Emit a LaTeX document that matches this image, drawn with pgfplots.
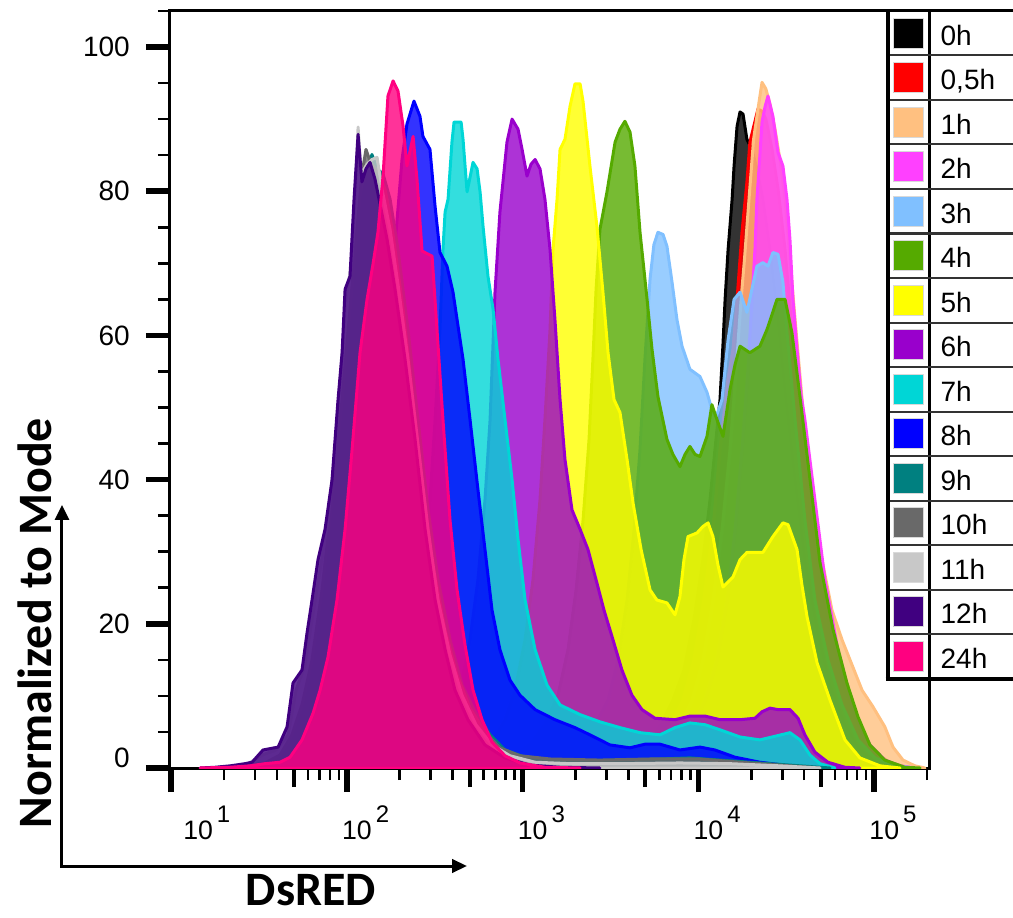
\documentclass[border=0pt]{standalone}
\usepackage{fontspec}
\setmainfont{Liberation Sans}
\newfontfamily\lblfont{Carlito}
\usepackage{pgfplots}
\pgfplotsset{compat=1.18}
\usetikzlibrary{arrows.meta}
\definecolor{c0}{HTML}{000000}
\definecolor{c05}{HTML}{FF0000}
\definecolor{c1}{HTML}{FFC080}
\definecolor{c2}{HTML}{FF40FF}
\definecolor{c3}{HTML}{80C0FF}
\definecolor{c4}{HTML}{55AA00}
\definecolor{c5}{HTML}{FFFF00}
\definecolor{c6}{HTML}{9900CC}
\definecolor{c7}{HTML}{00D6D6}
\definecolor{c8}{HTML}{0000FF}
\definecolor{c9}{HTML}{008080}
\definecolor{c10}{HTML}{696969}
\definecolor{c11}{HTML}{C8C8C8}
\definecolor{c12}{HTML}{400080}
\definecolor{c24}{HTML}{FF0080}
\newcommand\xl[1]{10\hspace{3pt}\raisebox{12.75pt}{\fontsize{18pt}{18pt}\selectfont #1}}
\pgfplotsset{hist/.style={fill=#1, draw=#1, fill opacity=0.8, line width=2.25pt, line join=round}}
\begin{document}
\begin{tikzpicture}
\begin{axis}[
  name=ax,
  scale only axis,
  width=569.25pt, height=567.75pt,
  xmin=0.994, xmax=5.312, ymin=0, ymax=105,
  axis line style={line width=2.25pt},
  tick pos=left,
  tick align=outside,
  xtick={1,2,3,4,5},
  xticklabels={{\hspace{12.75pt}\xl{1}},{\xl{2}},{\xl{3}},{\xl{4}},{\xl{5}}},
  minor xtick={1.30103,1.47712,1.60206,1.77815,1.84510,1.90309,1.95424,
               2.30103,2.47712,2.60206,2.77815,2.84510,2.90309,2.95424,
               3.30103,3.47712,3.60206,3.77815,3.84510,3.90309,3.95424,
               4.30103,4.47712,4.60206,4.77815,4.84510,4.90309,4.95424,
               5.30103},
  extra x ticks={1.69897,2.69897,3.69897,4.69897},
  extra x tick labels={},
  extra x tick style={major tick length=14.25pt, major tick style={line width=3pt}},
  ytick={20,40,60,80,100},
  minor ytick={5,10,15,25,30,35,45,50,55,65,70,75,85,90,95,105},
  extra y ticks={0},
  extra y tick style={yticklabel style={yshift=7.5pt}},
  major tick length=18pt,
  minor tick length=9pt,
  major tick style={line width=4.1pt, black},
  minor tick style={line width=1.9pt, black},
  /pgf/number format/assume math mode=true,
  yticklabel style={font=\fontsize{21pt}{21pt}\selectfont, anchor=east, inner sep=0pt, xshift=-12pt},
  xticklabel style={font=\fontsize{20pt}{20pt}\selectfont, anchor=base west, inner sep=0pt, xshift=-3.75pt, yshift=-35.25pt},
  xlabel={DsRED},
  ylabel={Normalized to Mode},
  xlabel style={font=\lblfont\bfseries\fontsize{36pt}{36pt}\selectfont, at={(axis description cs:0.1858,-0.181)}, anchor=base, inner sep=0pt},
  ylabel style={font=\lblfont\bfseries\fontsize{36pt}{36pt}\selectfont, at={(axis description cs:-0.1555,0.1915)}, anchor=base, inner sep=0pt},
  legend entries={0h,{0,5h},1h,2h,3h,4h,5h,6h,7h,8h,9h,10h,11h,12h,24h},
  legend style={at={(1,1)}, anchor=north west, xshift=-32.25pt,
    draw=none, fill=none, inner sep=0pt, inner xsep=0pt, inner ysep=0pt, outer sep=0pt,
    row sep=0pt, column sep=8pt,
    font=\fontsize{21pt}{21pt}\selectfont,
    nodes={inner sep=0pt, text height=19pt, text depth=1pt},
    cells={anchor=west}},
  legend image code/.code={
    \path[draw=none, fill=none] (0pt,-16.6875pt) rectangle (33pt,16.6875pt);
    \path[fill=white, fill opacity=1, draw=none] (3pt,-14pt) rectangle (30pt,14pt);
    \draw[#1, draw=black!15, line width=0.75pt, fill opacity=1, draw opacity=1] (5.25pt,-11.25pt) rectangle (27.75pt,11.25pt);
    \draw[overlay, draw=black!80, fill=none, line width=1.5pt, draw opacity=1] (0pt,-16.6875pt) -- (200pt,-16.6875pt);
  },
]
% 0h
\addplot[hist=c0] coordinates {(3.099,0) (3.327,0.1) (3.497,0.6) (3.611,1.4) (3.708,3.2) (3.787,6.0) (3.855,9.4) (3.918,13.6) (3.975,20.6) (4.026,28.9) (4.066,37.2) (4.100,45.6) (4.123,51.1) (4.140,58.8) (4.152,65.0) (4.169,71.9) (4.192,78.9) (4.203,83.5) (4.220,89.0) (4.237,91.0) (4.254,90.7) (4.276,87.2) (4.305,85.8) (4.333,83.1) (4.367,78.9) (4.407,71.9) (4.453,62.2) (4.498,51.1) (4.550,40.0) (4.606,28.9) (4.675,19.2) (4.749,11.5) (4.834,6.0) (4.919,2.5) (5.022,0.7) (5.147,0)} \closedcycle;
% 0,5h
\addplot[hist=c05] coordinates {(3.156,0) (3.383,0.1) (3.554,0.6) (3.668,1.4) (3.764,3.2) (3.844,6.0) (3.912,9.4) (3.975,15.0) (4.032,23.3) (4.083,33.1) (4.123,44.2) (4.168,53.9) (4.197,58.1) (4.220,65.0) (4.248,74.3) (4.276,81.25) (4.293,86.8) (4.322,89.7) (4.339,91.4) (4.362,91.1) (4.384,90.0) (4.419,85.8) (4.453,80.3) (4.493,71.9) (4.532,60.8) (4.578,48.3) (4.635,35.8) (4.692,26.1) (4.760,17.8) (4.834,10.8) (4.919,5.3) (5.005,2.2) (5.090,0.7) (5.204,0)} \closedcycle;
% 1h
\addplot[hist=c1] coordinates {(3.213,0) (3.440,0.1) (3.611,0.6) (3.725,1.4) (3.816,3.2) (3.895,6.0) (3.964,9.4) (4.026,15.0) (4.083,23.3) (4.135,33.1) (4.180,44.2) (4.215,55.3) (4.243,65.0) (4.262,70.5) (4.288,78.9) (4.314,87.2) (4.339,91.4) (4.362,95.1) (4.384,94.2) (4.407,92.1) (4.436,88.6) (4.464,84.4) (4.493,78.9) (4.521,70.6) (4.555,60.8) (4.595,49.7) (4.646,38.6) (4.703,28.9) (4.760,21.9) (4.817,17.8) (4.874,14.3) (4.931,10.8) (4.993,8.5) (5.061,5.7) (5.107,2.9) (5.164,1.1) (5.232,0.3) (5.289,0)} \closedcycle;
% 2h
\addplot[hist=c2] coordinates {(3.270,0) (3.497,0.1) (3.696,0.8) (3.839,2.5) (3.952,5.3) (4.038,9.4) (4.106,15.0) (4.163,23.3) (4.209,33.1) (4.248,44.2) (4.282,55.3) (4.305,65.0) (4.322,72.0) (4.333,78.9) (4.350,85.0) (4.362,89.6) (4.379,91.7) (4.396,93.2) (4.424,90.4) (4.453,85.4) (4.481,83.5) (4.504,78.9) (4.521,73.3) (4.538,65.0) (4.561,58.1) (4.584,51.8) (4.606,48.3) (4.663,37.2) (4.720,26.1) (4.794,16.4) (4.862,10.1) (4.919,6.0) (4.976,3.2) (5.061,1.1) (5.147,0.3) (5.232,0)} \closedcycle;
% 3h
\addplot[hist=c3] coordinates {(2.701,0) (2.928,0.1) (3.099,0.6) (3.213,1.4) (3.327,3.2) (3.412,6.0) (3.486,9.4) (3.543,15.0) (3.594,23.3) (3.634,33.1) (3.668,44.2) (3.696,56.7) (3.725,67.8) (3.747,72.6) (3.770,74.3) (3.799,74.0) (3.821,72.4) (3.850,67.4) (3.878,62.2) (3.907,58.5) (3.952,55.3) (4.009,54.3) (4.049,52.1) (4.077,49.7) (4.100,48.6) (4.134,51.1) (4.169,59.4) (4.203,65.0) (4.237,66.0) (4.276,63.2) (4.333,69.6) (4.367,70.1) (4.396,69.6) (4.424,71.5) (4.453,71.25) (4.481,67.4) (4.504,60.4) (4.550,48.3) (4.606,34.4) (4.663,23.3) (4.737,15.0) (4.817,8.75) (4.908,3.9) (5.005,1.4) (5.118,0.3) (5.232,0)} \closedcycle;
% 4h
\addplot[hist=c4] coordinates {(2.416,0) (2.644,0.1) (2.815,0.6) (2.928,1.4) (3.042,3.2) (3.127,6.0) (3.201,10.1) (3.258,16.4) (3.304,24.7) (3.344,34.4) (3.378,45.6) (3.400,56.7) (3.418,66.4) (3.440,74.7) (3.480,79.9) (3.526,86.8) (3.554,88.6) (3.582,89.7) (3.611,88.2) (3.639,83.5) (3.668,74.3) (3.708,65.0) (3.736,58.1) (3.770,51.5) (3.821,45.6) (3.855,43.5) (3.895,41.8) (3.924,43.5) (3.952,44.6) (3.981,43.5) (4.009,43.2) (4.049,46.0) (4.077,50.4) (4.106,48.3) (4.140,46.0) (4.180,52.5) (4.209,56.0) (4.237,58.5) (4.293,57.6) (4.350,58.5) (4.390,60.8) (4.419,62.9) (4.447,65.0) (4.493,65.0) (4.532,60.4) (4.578,51.5) (4.635,40.0) (4.692,28.5) (4.766,19.2) (4.845,11.8) (4.908,7.1) (4.976,3.2) (5.061,1.1) (5.175,0.1) (5.261,0)} \closedcycle;
% 5h
\addplot[hist=c5] coordinates {(2.189,0) (2.416,0.1) (2.587,0.6) (2.701,1.4) (2.815,3.2) (2.900,6.7) (2.957,10.8) (3.014,17.8) (3.059,26.1) (3.099,37.2) (3.127,48.3) (3.156,60.8) (3.173,71.9) (3.196,78.9) (3.213,85.8) (3.241,87.2) (3.270,91.8) (3.298,94.9) (3.327,94.9) (3.344,92.4) (3.383,83.5) (3.423,75.1) (3.457,66.0) (3.486,57.6) (3.520,51.1) (3.554,49.3) (3.594,42.8) (3.628,36.8) (3.674,30.3) (3.725,24.7) (3.764,23.3) (3.821,22.9) (3.867,21.25) (3.895,23.75) (3.918,28.9) (3.941,32.1) (3.992,32.6) (4.026,33.5) (4.055,34.0) (4.083,32.1) (4.111,28.2) (4.140,25.1) (4.197,26.5) (4.237,28.9) (4.276,29.9) (4.367,29.9) (4.424,32.1) (4.481,34.0) (4.510,33.75) (4.561,30.3) (4.589,25.4) (4.618,21.0) (4.675,14.6) (4.749,9.4) (4.834,3.9) (4.919,1.4) (5.033,0.3) (5.147,0)} \closedcycle;
% 6h
\addplot[hist=c6] coordinates {(1.904,0) (2.132,0.1) (2.303,0.6) (2.416,1.4) (2.502,3.2) (2.576,6.0) (2.644,10.8) (2.701,17.8) (2.746,26.1) (2.786,37.2) (2.815,48.3) (2.843,66.0) (2.871,77.1) (2.911,86.8) (2.940,90.0) (2.974,88.6) (2.997,85.8) (3.025,82.1) (3.048,83.75) (3.071,84.4) (3.099,83.1) (3.127,78.9) (3.156,71.9) (3.184,62.2) (3.213,51.1) (3.241,42.8) (3.281,35.8) (3.327,33.1) (3.372,30.3) (3.418,26.1) (3.463,21.9) (3.514,17.8) (3.565,13.6) (3.622,10.1) (3.679,8.1) (3.753,6.9) (3.867,6.7) (3.952,7.2) (4.038,7.2) (4.123,6.7) (4.237,6.7) (4.322,6.9) (4.362,7.8) (4.407,8.3) (4.453,8.1) (4.521,8.1) (4.567,6.9) (4.606,4.6) (4.663,2.2) (4.737,0.8) (4.834,0.1) (4.919,0)} \closedcycle;
% 7h
\addplot[hist=c7] coordinates {(1.620,0) (1.848,0.1) (1.990,0.6) (2.104,1.4) (2.189,3.2) (2.274,6.7) (2.331,10.8) (2.388,17.8) (2.433,26.1) (2.473,37.2) (2.502,48.3) (2.530,60.8) (2.547,71.9) (2.559,77.1) (2.576,78.9) (2.598,86.8) (2.610,89.6) (2.650,89.6) (2.661,87.2) (2.684,79.9) (2.718,84.0) (2.741,83.1) (2.758,79.9) (2.775,75.1) (2.803,68.2) (2.832,63.6) (2.860,56.7) (2.900,48.3) (2.940,40.0) (2.974,31.7) (3.014,23.3) (3.071,16.4) (3.139,11.5) (3.213,8.75) (3.327,7.4) (3.440,6.4) (3.554,5.6) (3.668,4.9) (3.782,4.6) (3.867,5.6) (3.952,6.25) (4.038,6.0) (4.123,5.3) (4.237,4.3) (4.350,3.9) (4.436,4.4) (4.521,4.9) (4.578,3.9) (4.635,1.8) (4.692,0.6) (4.777,0)} \closedcycle;
% 8h
\addplot[hist=c8] coordinates {(1.392,0) (1.563,0.1) (1.677,0.4) (1.762,1.1) (1.836,2.5) (1.904,5.3) (1.961,9.4) (2.018,15.0) (2.075,23.3) (2.132,34.4) (2.189,48.3) (2.246,63.6) (2.286,76.1) (2.314,84.4) (2.342,89.3) (2.382,92.5) (2.416,90.4) (2.433,87.6) (2.473,85.8) (2.502,77.9) (2.530,71.5) (2.570,69.6) (2.604,66.0) (2.633,61.25) (2.661,56.7) (2.701,48.3) (2.746,38.6) (2.786,30.3) (2.826,21.9) (2.871,16.4) (2.928,12.2) (2.985,10.1) (3.071,8.1) (3.184,6.7) (3.298,5.6) (3.383,4.6) (3.497,3.2) (3.611,2.8) (3.696,3.3) (3.782,3.3) (3.895,2.5) (4.009,2.9) (4.094,2.5) (4.208,1.5) (4.350,0.8) (4.521,0.3) (4.692,0)} \closedcycle;
% 9h
\addplot[hist=c9] coordinates {(1.222,0) (1.392,0.1) (1.506,0.4) (1.592,1.1) (1.677,3.2) (1.734,6.7) (1.791,12.2) (1.848,20.6) (1.904,31.7) (1.961,45.6) (2.007,58.1) (2.047,69.2) (2.086,78.9) (2.121,82.8) (2.143,85.1) (2.172,83.1) (2.206,82.4) (2.246,78.9) (2.291,71.9) (2.348,60.8) (2.405,48.3) (2.462,35.8) (2.519,26.1) (2.587,17.8) (2.655,11.5) (2.729,7.8) (2.815,4.6) (2.900,2.5) (3.014,1.5) (3.156,1.1) (3.327,1.0) (3.554,1.1) (3.782,1.25) (3.952,1.4) (4.123,1.1) (4.350,0.7) (4.578,0.3) (4.749,0)} \closedcycle;
% 10h
\addplot[hist=c10] coordinates {(1.222,0) (1.421,0.3) (1.535,0.7) (1.620,1.8) (1.688,4.6) (1.745,8.75) (1.802,15.0) (1.859,24.7) (1.916,37.2) (1.973,51.1) (2.018,63.6) (2.058,74.7) (2.086,82.4) (2.109,85.8) (2.138,83.75) (2.177,82.8) (2.217,80.3) (2.263,74.0) (2.320,63.6) (2.377,51.1) (2.433,38.6) (2.490,28.2) (2.559,19.2) (2.627,12.9) (2.701,8.3) (2.786,5.0) (2.871,2.8) (2.985,1.7) (3.156,1.25) (3.440,1.1) (3.725,1.25) (4.009,1.25) (4.237,0.8) (4.464,0.4) (4.692,0)} \closedcycle;
% 11h
\addplot[hist=c11] coordinates {(1.193,0) (1.336,0.1) (1.438,0.6) (1.518,1.8) (1.597,2.5) (1.666,4.6) (1.711,10.8) (1.762,14.3) (1.802,20.6) (1.848,27.5) (1.893,34.4) (1.933,44.2) (1.967,55.3) (1.995,65.0) (2.030,70.6) (2.052,81.7) (2.064,88.9) (2.081,82.4) (2.115,83.75) (2.143,84.4) (2.172,84.7) (2.200,80.3) (2.246,74.7) (2.291,67.1) (2.348,56.7) (2.405,44.9) (2.462,33.1) (2.519,23.3) (2.587,15.7) (2.655,10.1) (2.735,6.0) (2.826,3.2) (2.928,1.7) (3.071,0.8) (3.270,0.6) (3.554,0.6) (3.895,0.7) (4.180,0.6) (4.464,0.3) (4.692,0)} \closedcycle;
% 12h
\addplot[hist=c12] coordinates {(1.165,0) (1.250,0.1) (1.336,0.3) (1.421,0.6) (1.461,0.8) (1.523,2.5) (1.609,2.9) (1.660,5.7) (1.694,11.8) (1.745,13.6) (1.774,18.8) (1.802,23.3) (1.836,28.9) (1.876,33.1) (1.916,40.0) (1.950,51.1) (1.973,57.6) (1.990,66.4) (2.018,68.2) (2.041,78.9) (2.064,87.9) (2.086,81.3) (2.109,83.1) (2.132,84.0) (2.160,81.7) (2.189,78.2) (2.229,73.3) (2.274,66.4) (2.331,56.7) (2.388,45.6) (2.445,33.1) (2.502,23.3) (2.559,16.4) (2.615,10.8) (2.689,6.7) (2.786,3.2) (2.900,1.4) (3.042,0.4) (3.213,0.1) (3.440,0)} \closedcycle;
% 24h
\addplot[hist=c24] coordinates {(1.165,0) (1.336,0.1) (1.449,0.3) (1.535,0.6) (1.620,0.8) (1.677,1.5) (1.745,3.9) (1.808,7.6) (1.848,10.8) (1.893,15.4) (1.944,23.3) (1.990,33.1) (2.030,44.2) (2.075,57.6) (2.115,65.0) (2.149,69.9) (2.177,74.3) (2.206,82.1) (2.234,93.2) (2.263,95.3) (2.291,93.9) (2.320,89.0) (2.342,83.5) (2.377,87.6) (2.399,81.7) (2.428,71.7) (2.485,71.0) (2.513,60.8) (2.547,48.3) (2.587,34.4) (2.627,24.7) (2.672,17.1) (2.718,10.8) (2.769,6.7) (2.826,3.6) (2.900,1.7) (2.985,0.7) (3.127,0.1) (3.327,0)} \closedcycle;
\end{axis}
% legend frame
\draw[line width=3pt] ([shift={(-31.125pt,1pt)}]ax.north east) -- ([shift={(-31.125pt,-502pt)}]ax.north east);
\draw[line width=2.6pt] ([shift={(-32.6pt,-501pt)}]ax.north east) -- ([shift={(120pt,-501pt)}]ax.north east);
\draw[line width=2.25pt] ([shift={(-32.6pt,0pt)}]ax.north east) -- ([shift={(120pt,0pt)}]ax.north east);
% axis arrows
\draw[line width=2.25pt, line join=miter, {Triangle[length=11.25pt,width=10.5pt]}-{Triangle[length=11.25pt,width=10pt]}]
  ([shift={(-81pt,197.25pt)}]ax.south west) -- ([shift={(-81pt,-73.5pt)}]ax.south west) -- ([shift={(222.75pt,-73.5pt)}]ax.south west);
\pgfresetboundingbox
\path[use as bounding box] ([shift={(-127.5pt,-111.75pt)}]ax.south west) rectangle ([shift={(63pt,8.25pt)}]ax.north east);
\end{tikzpicture}
\end{document}
